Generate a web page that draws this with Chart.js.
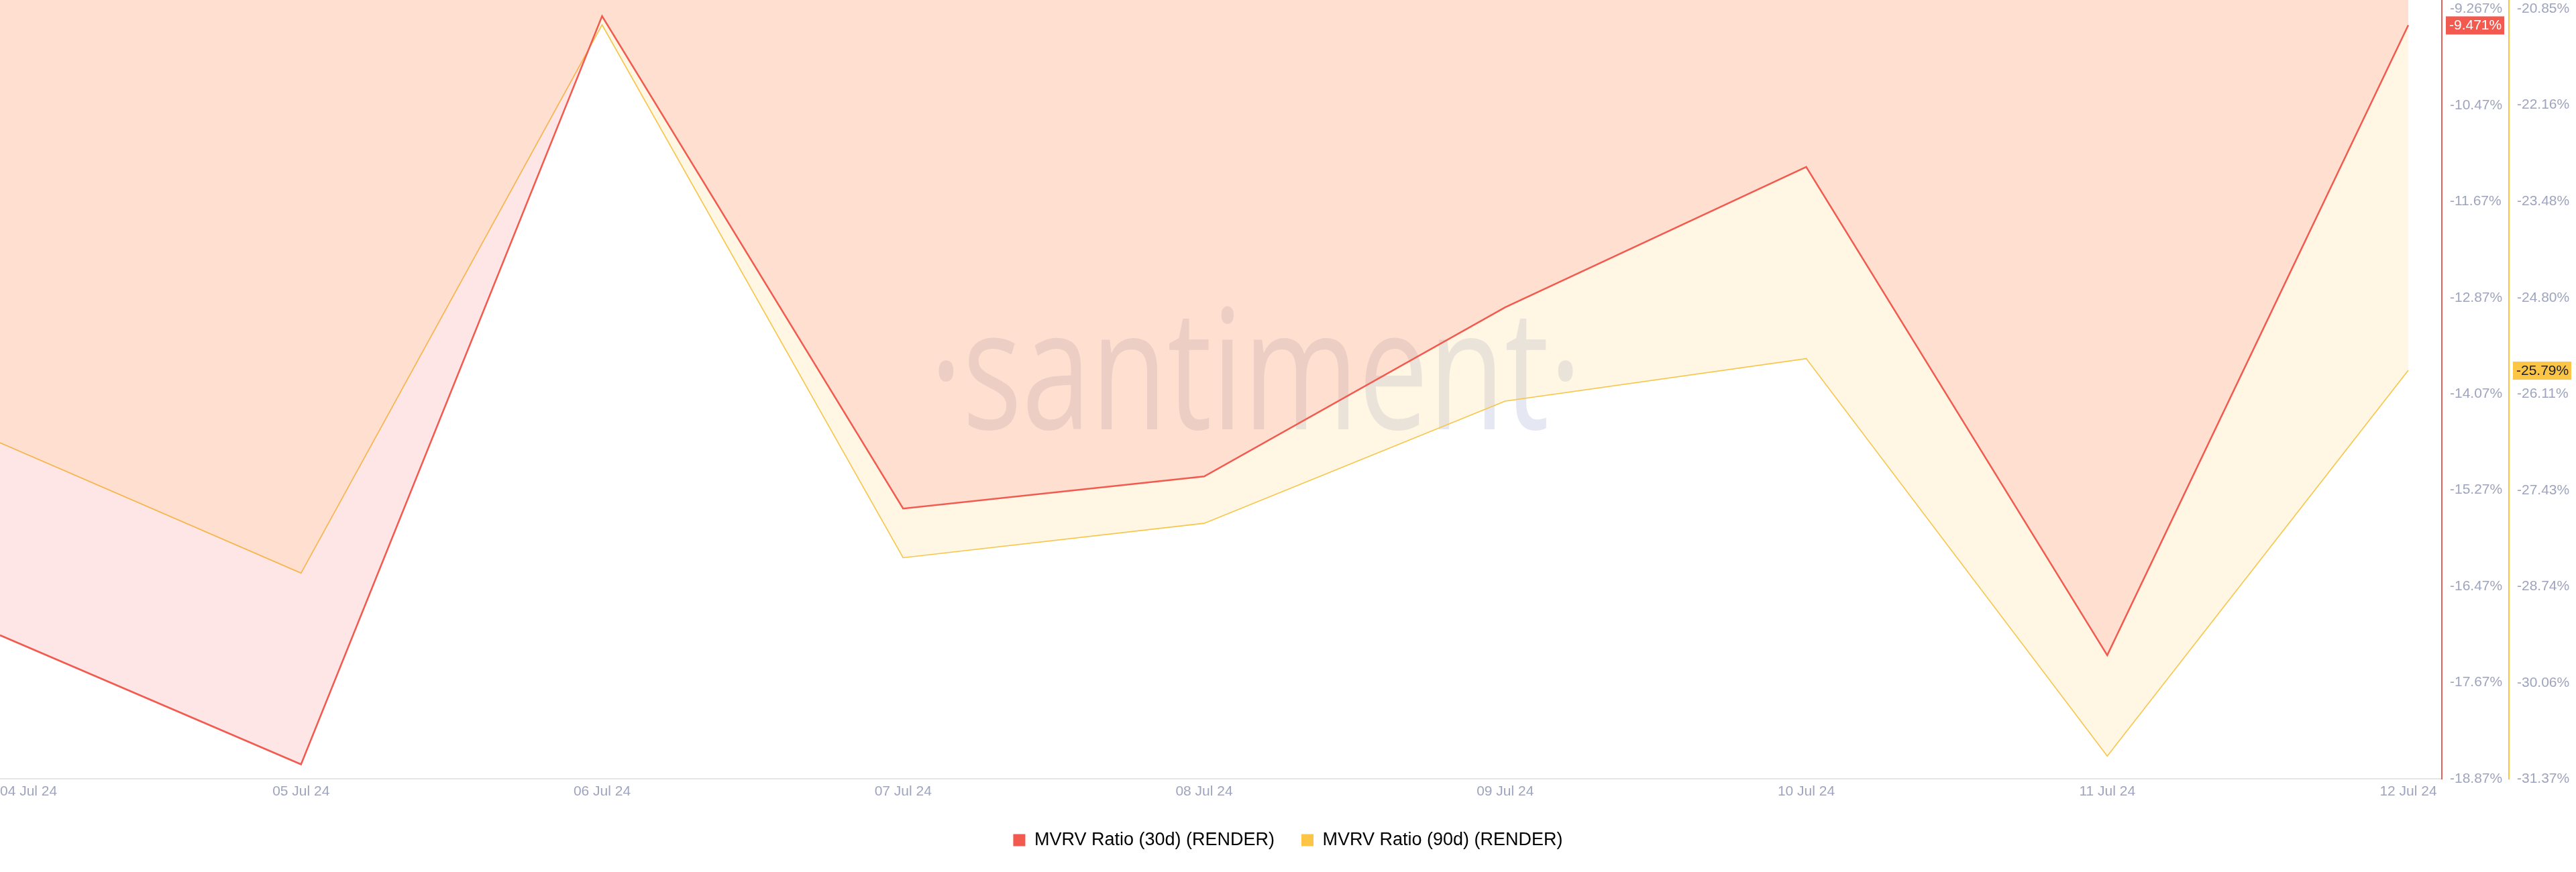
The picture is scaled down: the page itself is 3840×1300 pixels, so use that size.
<!DOCTYPE html>
<html>
<head>
<meta charset="utf-8">
<script src="https://cdn.jsdelivr.net/npm/chart.js@4.4.1/dist/chart.umd.min.js"></script>
<style>
  body { margin: 0; background: #fff; }
</style>
</head>
<body>
<canvas id="mvrv" width="3840" height="1300"></canvas>
<script>
const days = ['04 Jul 24', '05 Jul 24', '06 Jul 24', '07 Jul 24', '08 Jul 24', '09 Jul 24', '10 Jul 24', '11 Jul 24', '12 Jul 24'];
const mvrv30 = [-17.08, -18.69, -9.36, -15.50, -15.10, -12.99, -11.24, -17.33, -9.471];
const mvrv90 = [-26.78, -28.56, -21.07, -28.35, -27.88, -26.21, -25.63, -31.06, -25.79];
const ticks30 = [-9.267, -10.47, -11.67, -12.87, -14.07, -15.27, -16.47, -17.67, -18.87];
const ticks90 = [-20.85, -22.16, -23.48, -24.80, -26.11, -27.43, -28.74, -30.06, -31.37];

const RED = '#f25a4f';
const YELLOW = '#f6c54a';
const FONT = "'Liberation Sans', Arial, sans-serif";

// background + watermark
const watermark = {
  id: 'watermark',
  beforeDraw(chart) {
    const c = chart.ctx;
    c.save();
    c.fillStyle = '#fff';
    c.fillRect(0, 0, chart.width, chart.height);
    c.restore();
  },
  beforeDatasetsDraw(chart) {
    const c = chart.ctx;
    const a = chart.chartArea;
    c.save();
    c.font = "250px 'Open Sans'";
    c.fillStyle = 'rgba(70, 90, 160, 0.14)';
    c.textBaseline = 'alphabetic';
    const txt = '\u00b7santiment\u00b7';
    const w = c.measureText(txt).width;
    c.translate(a.left + 1386, a.top + 640);
    c.scale(972 / w, 1);
    c.fillText(txt, 0, 0);
    c.restore();
  }
};

// last value tags on the right axes
const lastTags = {
  id: 'lastTags',
  afterDraw(chart) {
    const c = chart.ctx;
    [['y', mvrv30, RED, '#fff'], ['y1', mvrv90, '#fcc545', '#1b1e2b']].forEach(([id, arr, bg, fg]) => {
      const s = chart.scales[id];
      const v = arr[arr.length - 1];
      const py = s.getPixelForValue(v);
      c.save();
      c.fillStyle = bg;
      c.fillRect(s.left + 6, py - 13, 87, 27);
      c.fillStyle = fg;
      c.font = '21px ' + FONT;
      c.textBaseline = 'middle';
      c.textAlign = 'left';
      c.fillText(v.toPrecision(4) + '%', s.left + 11, py + 1);
      c.restore();
    });
  }
};

const pts = arr => arr.map((v, i) => ({ x: i, y: v }));

new Chart(document.getElementById('mvrv'), {
  type: 'line',
  data: {
    datasets: [
      {
        label: 'MVRV Ratio (30d) (RENDER)',
        data: pts(mvrv30),
        yAxisID: 'y',
        borderColor: RED,
        borderWidth: 2.5,
        backgroundColor: RED,
        fill: { target: 'end', above: 'rgba(255, 90, 90, 0.15)', below: 'rgba(255, 90, 90, 0.15)' },
        pointRadius: 0,
        tension: 0
      },
      {
        label: 'MVRV Ratio (90d) (RENDER)',
        data: pts(mvrv90),
        yAxisID: 'y1',
        borderColor: YELLOW,
        borderWidth: 1.6,
        backgroundColor: '#fcc545',
        fill: { target: 'end', above: 'rgba(255, 203, 71, 0.15)', below: 'rgba(255, 203, 71, 0.15)' },
        pointRadius: 0,
        tension: 0
      }
    ]
  },
  options: {
    responsive: false,
    animation: false,
    layout: { padding: { bottom: 24 } },
    plugins: {
      legend: {
        position: 'bottom',
        labels: {
          font: { size: 27, family: FONT },
          color: '#1b1e2b',
          boxWidth: 18,
          boxHeight: 18,
          padding: 40,
          generateLabels: chart => chart.data.datasets.map((d, i) => ({
            text: d.label,
            fillStyle: d.backgroundColor,
            strokeStyle: d.backgroundColor,
            lineWidth: 0,
            datasetIndex: i
          }))
        }
      },
      tooltip: { enabled: false }
    },
    scales: {
      x: {
        type: 'linear',
        min: 0,
        max: 8 * 3640 / 3590,
        grid: { display: false, drawTicks: false },
        border: { display: true, color: '#e6e6e6', width: 2 },
        afterBuildTicks: s => {
          s.ticks = days.map((d, i) => ({ value: i })).concat([{ value: s.max }]);
        },
        afterFit: s => {
          s.height = 38;
          s.paddingLeft = 0;
          s.paddingRight = 0;
        },
        ticks: {
          autoSkip: false,
          maxRotation: 0,
          align: 'inner',
          padding: 7,
          color: '#9ea4bd',
          font: { size: 21, family: FONT },
          callback: v => days[v] || ''
        }
      },
      y: {
        position: 'right',
        min: -18.87,
        max: -9.158,
        grid: { display: false, drawTicks: false },
        border: { display: true, color: '#e0605a', width: 2 },
        afterBuildTicks: s => { s.ticks = ticks30.map(v => ({ value: v })); },
        afterFit: s => { s.width = 100; s.paddingTop = 0; s.paddingBottom = 0; },
        ticks: {
          padding: 12,
          color: '#9ea4bd',
          font: { size: 21, family: FONT },
          callback: v => v.toPrecision(4) + '%'
        }
      },
      y1: {
        position: 'right',
        min: -31.37,
        max: -20.731,
        grid: { display: false, drawTicks: false },
        border: { display: true, color: YELLOW, width: 2 },
        afterBuildTicks: s => { s.ticks = ticks90.map(v => ({ value: v })); },
        afterFit: s => { s.width = 100; s.paddingTop = 0; s.paddingBottom = 0; },
        ticks: {
          padding: 12,
          color: '#9ea4bd',
          font: { size: 21, family: FONT },
          callback: v => v.toPrecision(4) + '%'
        }
      }
    }
  },
  plugins: [watermark, lastTags]
});
</script>
</body>
</html>
